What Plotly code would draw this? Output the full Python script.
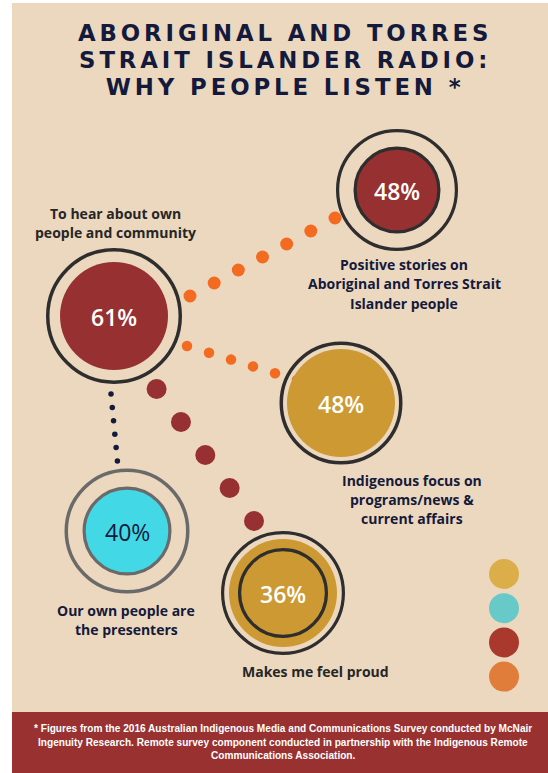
import numpy as np
import plotly.graph_objects as go

# ---------------- data ----------------
title_lines = ["ABORIGINAL AND TORRES", "STRAIT ISLANDER RADIO:", "WHY PEOPLE LISTEN *"]
reasons = [
    "To hear about own<br>people and community",
    "Positive stories on<br>Aboriginal and Torres Strait<br>Islander people",
    "Indigenous focus on<br>programs/news &<br>current affairs",
    "Our own people are<br>the presenters",
    "Makes me feel proud",
]
percents = [61, 48, 48, 40, 36]
footnote = ("* Figures from the 2016 Australian Indigenous Media and Communications Survey conducted by McNair<br>"
            "Ingenuity Research. Remote survey component conducted in partnership with the Indigenous Remote<br>"
            "Communications Association.")
legend_colors = ["#dcae4a", "#67c9c8", "#a8392c", "#e07d3a"]

# ---------------- layout / style (positions in pixel space) ----------------
W, H = 548, 773
BG = "#ecd8be"
NAVY = "#141a3b"
DARK = "#2e2e2e"
RED = "#973030"
GOLD = "#cc9933"
CYAN = "#43d8e6"
GRAY = "#6a6a6a"
ORANGE = "#f26b21"

centers = [(114, 316), (397, 190), (341, 403), (127, 531), (283, 593)]
styles = [
    dict(fill=RED, r=54, rings=[(68, DARK, 3.5)], tc="white", tw=600),
    dict(fill=RED, r=42, rings=[(61, DARK, 3.2), (43.5, DARK, 3.2)], tc="white", tw=600),
    dict(fill=GOLD, r=54, rings=[(61.5, DARK, 3.5)], tc="white", tw=600),
    dict(fill=CYAN, r=43, rings=[(62.5, GRAY, 3.5), (44.5, GRAY, 3.2)], tc=NAVY, tw=400),
    dict(fill=GOLD, r=54, rings=[(62, DARK, 3.2), (45, DARK, 3.2)], tc="white", tw=600),
]
label_pos = [(115, 213.3), (404, 264.3), (412, 480), (126, 610.3), (315, 671.7)]
label_colors = ["#262626", NAVY, NAVY, NAVY, "#262626"]
LABEL_STEP = 19.4

connectors = [
    dict(p0=(190, 296), p1=(335, 218), n=7, size=13, color=ORANGE),
    dict(p0=(187, 346), p1=(297, 380), n=6, size=10.5, color=ORANGE),
    dict(p0=(156.6, 389), p1=(254, 521), n=5, size=20, color=RED),
    dict(p0=(111, 394), p1=(117.4, 461), n=6, size=5.5, color=NAVY),
]
legend_x, legend_y0, legend_dy, legend_size = 504, 574, 34.2, 30

fig = go.Figure()

for c in connectors:
    xs = np.linspace(c["p0"][0], c["p1"][0], c["n"])
    ys = np.linspace(c["p0"][1], c["p1"][1], c["n"])
    fig.add_trace(go.Scatter(x=xs, y=ys, mode="markers", hoverinfo="skip",
                             marker=dict(size=c["size"], color=c["color"], line=dict(width=0))))

fig.add_trace(go.Scatter(x=[legend_x] * len(legend_colors),
                         y=[legend_y0 + i * legend_dy for i in range(len(legend_colors))],
                         mode="markers", hoverinfo="skip",
                         marker=dict(size=legend_size, color=legend_colors, line=dict(width=0))))

shapes = [
    dict(type="rect", xref="x", yref="y", x0=12, x1=W, y0=3, y1=712, fillcolor=BG,
         line=dict(width=0), layer="below"),
    dict(type="rect", xref="x", yref="y", x0=12, x1=W, y0=712, y1=H, fillcolor="#993131",
         line=dict(width=0), layer="below"),
]
for (cx, cy), st in zip(centers, styles):
    r = st["r"]
    shapes.append(dict(type="circle", xref="x", yref="y", x0=cx - r, x1=cx + r, y0=cy - r, y1=cy + r,
                       fillcolor=st["fill"], line=dict(width=0), layer="above"))
    for (R, col, w) in st["rings"]:
        rr = R - w / 2
        shapes.append(dict(type="circle", xref="x", yref="y", x0=cx - rr, x1=cx + rr,
                           y0=cy - rr, y1=cy + rr, fillcolor="rgba(0,0,0,0)",
                           line=dict(width=w, color=col), layer="above"))

annotations = []
title_style = "font-size:22.8px;letter-spacing:3.9px"
title_text = "<br>".join(f"<span style='{title_style}'>{t}</span>" for t in title_lines)
annotations.append(dict(x=285, y=60, xref="x", yref="y", text=title_text, showarrow=False,
                        xanchor="center", yanchor="middle", align="center",
                        font=dict(family="DejaVu Sans", size=20.6, color=NAVY, weight=700)))
for (cx, cy), st, p in zip(centers, styles, percents):
    annotations.append(dict(x=cx, y=cy + 1, xref="x", yref="y", text=f"{p}%", showarrow=False,
                            xanchor="center", yanchor="middle",
                            font=dict(family="Open Sans", size=23, color=st["tc"], weight=st["tw"])))
for (lx, ly), txt, col in zip(label_pos, reasons, label_colors):
    for j, part in enumerate(txt.split("<br>")):
        annotations.append(dict(x=lx, y=ly + j * LABEL_STEP, xref="x", yref="y", text=part,
                                showarrow=False, xanchor="center", yanchor="middle",
                                font=dict(family="Open Sans", size=14, color=col, weight=700)))
for j, part in enumerate(footnote.split("<br>")):
    annotations.append(dict(x=283, y=728.7 + j * 13.5, xref="x", yref="y", text=part, showarrow=False,
                            xanchor="center", yanchor="middle",
                            font=dict(family="Liberation Sans", size=10.1, color="white", weight=700)))

fig.update_layout(
    width=W, height=H, margin=dict(l=0, r=0, t=0, b=0),
    paper_bgcolor="white", plot_bgcolor="rgba(0,0,0,0)",
    showlegend=False, shapes=shapes, annotations=annotations,
    xaxis=dict(range=[0, W], visible=False, fixedrange=True),
    yaxis=dict(range=[H, 0], visible=False, fixedrange=True),
)
fig.write_html("out.html", config={"displayModeBar": False})
